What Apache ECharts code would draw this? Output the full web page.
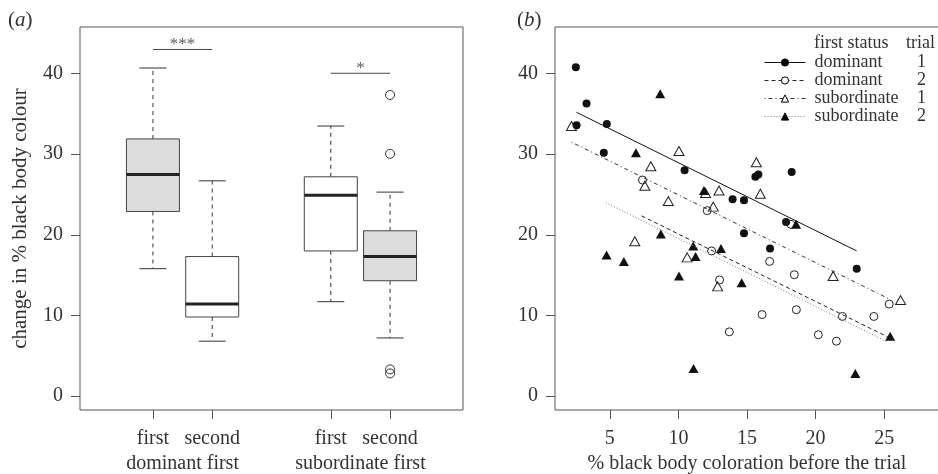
<!DOCTYPE html>
<html lang="en">
<head>
    <meta charset="utf-8">
    <title>black body colour</title>
    <script src="https://cdn.jsdelivr.net/npm/echarts@6/dist/echarts.min.js"></script>
    <style>
        html, body { margin: 0; padding: 0; background: #fff; }
        #chart { width: 938px; height: 474px; }
    </style>
</head>
<body>
<div id="chart"></div>
<script>
    // ---- panel (a): boxplots ----
    let boxPos = [1, 2, 4, 5];
    let boxTickLabels = ['first', 'second', 'first', 'second'];
    let groupPos = [1.5, 4.5];
    let groupLabels = ['dominant first', 'subordinate first'];
    let boxMin = [15.8, 6.8, 11.7, 7.2];
    let boxQ1 = [22.9, 9.8, 18.0, 14.3];
    let boxMed = [27.5, 11.4, 24.9, 17.3];
    let boxQ3 = [31.9, 17.3, 27.2, 20.5];
    let boxMax = [40.7, 26.7, 33.5, 25.3];
    let outliers = [[5, 37.35], [5, 30.05], [5, 3.3], [5, 2.8]];
    let sigBars = [[1, 2, 43.0, '***'], [4, 5, 40.05, '*']];
    let yTicks = [0, 10, 20, 30, 40];

    // ---- panel (b): scatter ----
    let xTicksB = [5, 10, 15, 20, 25];
    let dom1 = [[2.52, 40.8], [3.30, 36.3], [2.57, 33.6], [4.78, 33.75], [4.56, 30.2], [10.45, 28.0],
        [13.95, 24.4], [14.78, 24.3], [14.78, 20.2], [15.61, 27.2], [15.83, 27.5], [18.26, 27.8],
        [17.85, 21.6], [16.68, 18.3], [23.0, 15.8]];
    let dom2 = [[7.38, 26.8], [12.10, 23.0], [12.42, 18.0], [13.0, 14.4], [13.71, 7.96], [16.1, 10.1],
        [16.65, 16.7], [18.45, 15.05], [18.6, 10.7], [20.2, 7.6], [21.52, 6.8], [21.96, 9.87],
        [24.25, 9.87], [25.37, 11.4], [18.2, 21.3]];
    let sub1 = [[2.2, 33.5], [10.04, 30.4], [7.99, 28.5], [7.55, 26.1], [9.26, 24.2], [11.98, 25.2],
        [12.96, 25.5], [12.54, 23.5], [15.68, 29.0], [15.97, 25.1], [6.82, 19.2], [10.64, 17.2],
        [12.86, 13.6], [21.28, 14.9], [26.2, 11.9]];
    let sub2 = [[8.67, 37.5], [6.9, 30.2], [11.86, 25.5], [8.72, 20.1], [4.76, 17.5], [6.02, 16.7],
        [11.08, 18.6], [11.25, 17.3], [13.1, 18.3], [10.04, 14.9], [14.61, 14.05], [11.1, 3.4],
        [22.9, 2.8], [25.44, 7.4], [18.58, 21.3]];
    // fitted lines (end points)
    let fitDom1 = [[2.57, 35.2], [23.0, 18.0]];
    let fitDom2 = [[7.31, 22.35], [25.3, 7.3]];
    let fitSub1 = [[2.2, 31.5], [25.3, 12.1]];
    let fitSub2 = [[4.71, 24.0], [25.24, 6.7]];
    let legendStatus = ['dominant', 'dominant', 'subordinate', 'subordinate'];
    let legendTrial = ['1', '2', '1', '2'];

    let font = 'Liberation Serif';
    let txt = '#333';
    let axisCol = '#555';
    let boxFills = ['#dcdcdc', '#fff', '#fff', '#dcdcdc'];

    let boxData = [];
    for (let i = 0; i < boxPos.length; i++) {
        boxData.push([boxPos[i], boxMin[i], boxQ1[i], boxMed[i], boxQ3[i], boxMax[i]]);
    }

    // R style box: dashed whiskers, short caps, thick median
    function renderBox(params, api) {
        let x = api.value(0);
        let pMin = api.coord([x, api.value(1)]);
        let pQ1 = api.coord([x, api.value(2)]);
        let pMed = api.coord([x, api.value(3)]);
        let pQ3 = api.coord([x, api.value(4)]);
        let pMax = api.coord([x, api.value(5)]);
        let hw = 26.5, cw = 13.5;
        let cx = pMed[0];
        let dash = {stroke: '#333', lineWidth: 1, lineDash: [4, 4]};
        let solid = {stroke: '#333', lineWidth: 1};
        return {
            type: 'group',
            children: [
                {type: 'line', shape: {x1: cx, y1: pQ3[1], x2: cx, y2: pMax[1]}, style: dash},
                {type: 'line', shape: {x1: cx, y1: pQ1[1], x2: cx, y2: pMin[1]}, style: dash},
                {type: 'line', shape: {x1: cx - cw, y1: pMax[1], x2: cx + cw, y2: pMax[1]}, style: solid},
                {type: 'line', shape: {x1: cx - cw, y1: pMin[1], x2: cx + cw, y2: pMin[1]}, style: solid},
                {type: 'rect', shape: {x: cx - hw, y: pQ3[1], width: hw * 2, height: pQ1[1] - pQ3[1]},
                    style: {fill: boxFills[params.dataIndex], stroke: '#444', lineWidth: 1}},
                {type: 'line', shape: {x1: cx - hw, y1: pMed[1], x2: cx + hw, y2: pMed[1]},
                    style: {stroke: '#222', lineWidth: 3}}
            ]
        };
    }

    function sigLine(b) {
        return {
            type: 'line', xAxisIndex: 0, yAxisIndex: 0, silent: true, symbol: 'none',
            lineStyle: {color: '#444', width: 1},
            data: [[b[0], b[2]], [b[1], b[2]]]
        };
    }

    let starData = sigBars.map(function (b) { return {value: [(b[0] + b[1]) / 2, b[2]], star: b[3]}; });

    // axes sit on the grid edge (not on zero), ticks outward
    let tickStyle = {show: true, inside: false, length: 9, lineStyle: {color: axisCol, width: 1}};
    let noLine = {show: false, onZero: false};
    let labelStyle = {color: txt, fontFamily: font, fontSize: 20};

    let legendItems = ['dominant 1', 'dominant 2', 'subordinate 1', 'subordinate 2'];
    let legendSym = [
        {color: '#000', borderColor: '#000', borderWidth: 1, opacity: 1},
        {color: '#fff', borderColor: '#000', borderWidth: 1, opacity: 1},
        {color: '#fff', borderColor: '#000', borderWidth: 1, opacity: 1},
        {color: '#000', borderColor: '#000', borderWidth: 1, opacity: 1}
    ];

    function fitSeries(name, data, symbol, dashType, color) {
        return {
            name: name, type: 'line', xAxisIndex: 2, yAxisIndex: 1, silent: true,
            symbol: symbol, showSymbol: false,
            lineStyle: {color: color, width: 1, type: dashType},
            itemStyle: {color: color},
            data: data
        };
    }

    function pointSeries(data, symbol, size, filled) {
        return {
            type: 'scatter', xAxisIndex: 2, yAxisIndex: 1, silent: true,
            symbol: symbol, symbolSize: size,
            itemStyle: filled ? {color: '#111', opacity: 1}
                : {color: 'rgba(0,0,0,0)', borderColor: '#222', borderWidth: 1, opacity: 1},
            data: data
        };
    }

    let titleRich = {
        p: {fontFamily: font, fontSize: 21, color: txt, fontWeight: 'normal'},
        i: {fontFamily: font, fontSize: 21, color: txt, fontStyle: 'italic', fontWeight: 'normal'}
    };

    let chart = echarts.init(document.getElementById('chart'));
    let option = {
        animation: false,
        backgroundColor: '#fff',
        title: [
            {text: '{p|(}{i|a}{p|)}', left: 8, top: 10, padding: 0, textStyle: {rich: titleRich}},
            {text: '{p|(}{i|b}{p|)}', left: 517, top: 10, padding: 0, textStyle: {rich: titleRich}},
            {text: '{a|first status}{b|trial}', left: 814, top: 34, padding: 0,
                textStyle: {rich: {a: {fontFamily: font, fontSize: 18, color: txt, width: 92, fontWeight: 'normal'},
                        b: {fontFamily: font, fontSize: 18, color: txt, fontWeight: 'normal'}}}}
        ],
        grid: [
            {left: 80, top: 27, width: 383, height: 383, show: true, borderColor: axisCol, borderWidth: 1,
                outerBoundsMode: 'none'},
            {left: 555, top: 27, width: 384, height: 383, show: true, borderColor: axisCol, borderWidth: 1,
                outerBoundsMode: 'none'}
        ],
        legend: {
            orient: 'vertical', left: 764, top: 53.5, padding: 0, itemWidth: 41, itemHeight: 9, itemGap: 0,
            selectedMode: false,
            lineStyle: {width: 1},
            data: legendItems.map(function (n, i) { return {name: n, itemStyle: legendSym[i]}; }),
            formatter: function (name) {
                let i = legendItems.indexOf(name);
                return '{n|' + legendStatus[i] + '}{t|' + legendTrial[i] + '}';
            },
            textStyle: {
                rich: {
                    n: {fontFamily: font, fontSize: 18, color: txt, width: 101, lineHeight: 17.7, padding: [0, 0, 0, 4]},
                    t: {fontFamily: font, fontSize: 18, color: txt, width: 12, align: 'center', lineHeight: 17.7}
                }
            }
        },
        xAxis: [
            {
                gridIndex: 0, type: 'value', min: -0.23, max: 6.23, position: 'bottom',
                axisLine: noLine, splitLine: {show: false},
                axisTick: Object.assign({customValues: boxPos}, tickStyle),
                axisLabel: Object.assign({
                    customValues: boxPos, margin: 19,
                    formatter: function (v) { return boxTickLabels[boxPos.indexOf(v)]; }
                }, labelStyle)
            },
            {
                gridIndex: 0, type: 'value', min: -0.23, max: 6.23, position: 'bottom',
                axisLine: noLine, splitLine: {show: false}, axisTick: {show: false},
                axisLabel: Object.assign({
                    customValues: groupPos, margin: 44,
                    formatter: function (v) { return groupLabels[groupPos.indexOf(v)]; }
                }, labelStyle)
            },
            {
                gridIndex: 1, type: 'value', min: 1, max: 29, position: 'bottom',
                axisLine: noLine, splitLine: {show: false},
                axisTick: Object.assign({customValues: xTicksB}, tickStyle),
                axisLabel: Object.assign({customValues: xTicksB, margin: 19}, labelStyle),
                name: '% black body coloration before the trial', nameLocation: 'middle', nameGap: 44,
                nameTextStyle: labelStyle
            }
        ],
        yAxis: [
            {
                gridIndex: 0, type: 'value', min: -1.74, max: 45.79,
                axisLine: noLine, splitLine: {show: false},
                axisTick: Object.assign({customValues: yTicks}, tickStyle),
                axisLabel: Object.assign({customValues: yTicks, margin: 17}, labelStyle),
                name: 'change in % black body colour', nameLocation: 'middle', nameGap: 49,
                nameTextStyle: {color: txt, fontFamily: font, fontSize: 21}
            },
            {
                gridIndex: 1, type: 'value', min: -1.74, max: 45.79,
                axisLine: noLine, splitLine: {show: false},
                axisTick: Object.assign({customValues: yTicks}, tickStyle),
                axisLabel: Object.assign({customValues: yTicks, margin: 17}, labelStyle)
            }
        ],
        series: [
            {
                type: 'custom', xAxisIndex: 0, yAxisIndex: 0, silent: true,
                renderItem: renderBox, encode: {x: 0, y: [1, 2, 3, 4, 5]}, data: boxData
            },
            {
                type: 'scatter', xAxisIndex: 0, yAxisIndex: 0, silent: true,
                symbol: 'circle', symbolSize: 9,
                itemStyle: {color: 'rgba(0,0,0,0)', borderColor: '#333', borderWidth: 1, opacity: 1},
                data: outliers
            },
            sigLine(sigBars[0]),
            sigLine(sigBars[1]),
            {
                type: 'scatter', xAxisIndex: 0, yAxisIndex: 0, silent: true, symbolSize: 0,
                label: {
                    show: true, position: 'top', distance: -4, color: txt, fontFamily: font, fontSize: 17,
                    formatter: function (p) { return p.data.star; }
                },
                data: starData
            },
            pointSeries(dom1, 'circle', 8, true),
            pointSeries(dom2, 'circle', 8, false),
            pointSeries(sub1, 'triangle', [10, 9], false),
            pointSeries(sub2, 'triangle', [10, 9], true),
            fitSeries('dominant 1', fitDom1, 'circle', 'solid', '#111'),
            fitSeries('dominant 2', fitDom2, 'circle', [4, 3], '#222'),
            fitSeries('subordinate 1', fitSub1, 'triangle', [1, 3, 4, 3], '#333'),
            fitSeries('subordinate 2', fitSub2, 'triangle', [1, 2], '#777')
        ]
    };
    chart.setOption(option);
</script>
</body>
</html>
